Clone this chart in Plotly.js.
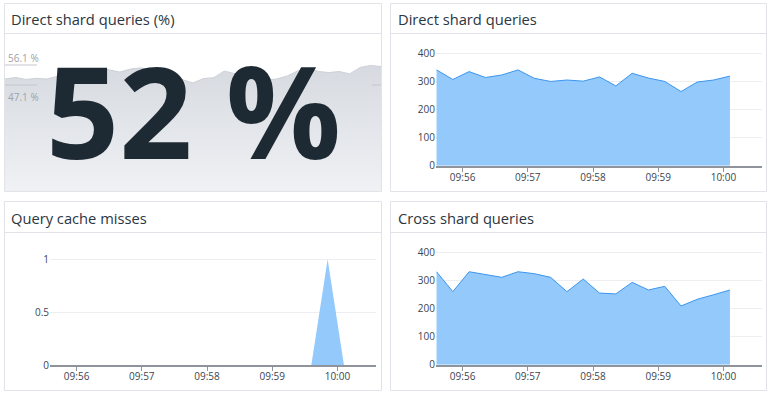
<!DOCTYPE html>
<html>
<head>
<meta charset="utf-8">
<script src="https://cdn.plot.ly/plotly-3.0.1.min.js"></script>
<style>
  html, body { margin: 0; padding: 0; background: #ffffff; }
  #chart { width: 769px; height: 395px; }
</style>
</head>
<body>
<div id="chart"></div>
<script>
// ---------- DATA ----------
const panelTitles = ['Direct shard queries (%)', 'Direct shard queries', 'Query cache misses', 'Cross shard queries'];

const times = [
  '2024-05-14 09:55:36', '2024-05-14 09:55:51', '2024-05-14 09:56:06', '2024-05-14 09:56:21',
  '2024-05-14 09:56:36', '2024-05-14 09:56:51', '2024-05-14 09:57:06', '2024-05-14 09:57:21',
  '2024-05-14 09:57:36', '2024-05-14 09:57:51', '2024-05-14 09:58:06', '2024-05-14 09:58:21',
  '2024-05-14 09:58:36', '2024-05-14 09:58:51', '2024-05-14 09:59:06', '2024-05-14 09:59:21',
  '2024-05-14 09:59:36', '2024-05-14 09:59:51', '2024-05-14 10:00:06'
];

const directShard = [341, 307, 335, 314, 323, 341, 311, 300, 305, 301, 316, 284, 329, 312, 300, 264, 298, 305, 319];
const crossShard  = [331, 260, 331, 320, 311, 331, 324, 311, 260, 305, 255, 252, 293, 266, 279, 209, 233, 249, 266];
const cacheMisses = [0, 0, 0, 0, 0, 0, 0, 0, 0, 0, 0, 0, 0, 0, 0, 0, 0, 1, 0];

// sparkline of the direct shard share (%)
const directPct = [
  49.8, 50.5, 49.6, 50.1, 49.8, 50.9, 52.1, 54.1, 54.5, 54.5,
  53.9, 52.9, 54.3, 54.8, 53.9, 52.5, 51.1, 49.4, 48.0, 50.0,
  50.4, 53.4, 52.3, 51.1, 49.8, 49.4, 49.8, 51.1, 53.4, 54.5,
  53.2, 52.7, 53.2, 52.1, 55.0, 55.9, 55.4
];
const sparkMax = 56.1;
const sparkMin = 47.1;
const bigValueText = '52 %';
const sparkMaxLabel = '56.1 %';
const sparkMinLabel = '47.1 %';

const timeRange = ['2024-05-14 09:55:35.5', '2024-05-14 10:00:35.5'];
const countTicks = [0, 100, 200, 300, 400];
const missTicks = [0, 0.5, 1];

// ---------- LAYOUT HELPERS ----------
const W = 769, H = 395;
const px = x => x / W;
const py = y => 1 - y / H;

const FILL = '#93c9fb';
const LINE = '#3b95ee';
const AXIS = '#8e939c';
const GRID = '#eceef2';
const TICKFONT = { family: 'Open Sans', size: 10, color: '#3b4550' };
const BORDER = '#e1e3e9';

function timeAxis(domainPx, anchor) {
  return {
    domain: [px(domainPx[0]), px(domainPx[1])],
    anchor: anchor,
    type: 'date',
    range: timeRange,
    tickformat: '%H:%M',
    dtick: 60000,
    tick0: '2024-05-14 09:56:00',
    ticks: 'outside',
    ticklen: 4,
    tickwidth: 1,
    tickcolor: AXIS,
    ticklabelstandoff: -3,
    showline: true,
    linecolor: AXIS,
    linewidth: 2,
    showgrid: false,
    zeroline: false,
    tickfont: TICKFONT,
    fixedrange: true
  };
}
function valueAxis(domainPx, anchor, range, tickvals) {
  return {
    domain: [py(domainPx[1]), py(domainPx[0])],
    anchor: anchor,
    range: range,
    tickmode: 'array',
    tickvals: tickvals,
    showgrid: true,
    gridcolor: GRID,
    gridwidth: 1,
    zeroline: false,
    showline: false,
    ticks: '',
    tickfont: TICKFONT,
    fixedrange: true
  };
}

const sparkIdx = directPct.map((_, i) => i);

const traces = [
  // sparkline baseline (invisible)
  { type: 'scatter', mode: 'lines', x: [sparkIdx[0], sparkIdx[sparkIdx.length - 1]], y: [-2, -2],
    xaxis: 'x4', yaxis: 'y4', line: { width: 0 }, hoverinfo: 'skip' },
  { type: 'scatter', mode: 'lines', x: sparkIdx, y: directPct, xaxis: 'x4', yaxis: 'y4',
    fill: 'tonexty',
    fillgradient: { type: 'vertical', start: 0, stop: sparkMax,
      colorscale: [[0, '#eff1f4'], [1, '#d6dae0']] },
    line: { color: '#cdd1d7', width: 1 }, hoverinfo: 'skip' },
  // Direct shard queries
  { type: 'scatter', mode: 'lines', x: times, y: directShard, xaxis: 'x', yaxis: 'y',
    fill: 'tozeroy', fillcolor: FILL, line: { color: LINE, width: 1 } },
  // Query cache misses
  { type: 'scatter', mode: 'lines', x: times, y: cacheMisses, xaxis: 'x2', yaxis: 'y2',
    fill: 'tozeroy', fillcolor: FILL, line: { color: FILL, width: 0 } },
  // Cross shard queries
  { type: 'scatter', mode: 'lines', x: times, y: crossShard, xaxis: 'x3', yaxis: 'y3',
    fill: 'tozeroy', fillcolor: FILL, line: { color: LINE, width: 1 } }
];

// sparkline axis: 56.1 -> y 65px, 47.1 -> y 85px
const sparkPxPerUnit = 20 / (sparkMax - sparkMin);
const sparkTopPx = 34, sparkBottomPx = 191;
const sparkRange = [sparkMin - (sparkBottomPx - 85) / sparkPxPerUnit, sparkMax + (65 - sparkTopPx) / sparkPxPerUnit];

const panels = [
  [4.5, 3.5, 381.5, 191.5, 33.5],
  [390.5, 3.5, 766.5, 191.5, 33.5],
  [4.5, 201.5, 381.5, 390.5, 232.5],
  [390.5, 201.5, 766.5, 390.5, 232.5]
];
const shapes = [];
panels.forEach(p => {
  shapes.push({ type: 'rect', xref: 'paper', yref: 'paper', x0: px(p[0]), x1: px(p[2]), y0: py(p[3]), y1: py(p[1]),
    line: { color: BORDER, width: 1 }, fillcolor: 'rgba(0,0,0,0)', layer: 'above' });
  shapes.push({ type: 'line', xref: 'paper', yref: 'paper', x0: px(p[0]), x1: px(p[2]), y0: py(p[4]), y1: py(p[4]),
    line: { color: BORDER, width: 1 }, layer: 'above' });
});
// spark reference marks
shapes.push({ type: 'line', xref: 'paper', yref: 'y4', x0: px(5), x1: px(37), y0: sparkMax, y1: sparkMax,
  line: { color: '#c3c7ce', width: 1 } });
shapes.push({ type: 'line', xref: 'paper', yref: 'y4', x0: px(5), x1: px(37), y0: sparkMin, y1: sparkMin,
  line: { color: '#c3c7ce', width: 1 } });
shapes.push({ type: 'line', xref: 'paper', yref: 'y4', x0: px(372), x1: px(381), y0: sparkMin, y1: sparkMin,
  line: { color: '#c3c7ce', width: 1 } });

const titlePos = [[9, 19], [395.5, 19], [9, 218], [395.5, 218]];
const annotations = panelTitles.map((t, i) => ({
  text: t, xref: 'paper', yref: 'paper', x: px(titlePos[i][0]), y: py(titlePos[i][1]),
  xanchor: 'left', yanchor: 'middle', showarrow: false,
  font: { family: 'Open Sans', size: 14.7, color: '#2b3641' }
}));
annotations.push({ text: sparkMaxLabel, xref: 'paper', yref: 'y4', x: px(6), y: sparkMax,
  xanchor: 'left', yanchor: 'bottom', yshift: -2, showarrow: false,
  font: { family: 'Open Sans', size: 10, color: '#9da2a9' } });
annotations.push({ text: sparkMinLabel, xref: 'paper', yref: 'y4', x: px(6), y: sparkMin,
  xanchor: 'left', yanchor: 'top', yshift: -3, showarrow: false,
  font: { family: 'Open Sans', size: 10, color: '#9da2a9' } });
annotations.push({ text: bigValueText, xref: 'paper', yref: 'paper', x: px(193), y: py(109.5),
  xanchor: 'center', yanchor: 'middle', showarrow: false,
  font: { family: 'Open Sans', size: 128, weight: 700, color: '#1e2a33' } });

const layout = {
  width: W, height: H,
  margin: { l: 0, r: 0, t: 0, b: 0, pad: 0 },
  paper_bgcolor: '#ffffff',
  plot_bgcolor: 'rgba(0,0,0,0)',
  showlegend: false,
  font: { family: 'Open Sans', color: '#3b4550' },
  xaxis: timeAxis([436, 762], 'y'),
  yaxis: valueAxis([42.1, 165.7], 'x', [0, 440], countTicks),
  xaxis2: timeAxis([50, 376], 'y2'),
  yaxis2: valueAxis([241.3, 365], 'x2', [0, 1.17], missTicks),
  xaxis3: timeAxis([436, 762], 'y3'),
  yaxis3: valueAxis([241.1, 364.7], 'x3', [0, 440], countTicks),
  xaxis4: { domain: [px(5), px(381)], anchor: 'y4', range: [sparkIdx[0], sparkIdx[sparkIdx.length - 1]],
    visible: false, fixedrange: true },
  yaxis4: { domain: [py(sparkBottomPx), py(sparkTopPx)], anchor: 'x4', range: sparkRange,
    visible: false, fixedrange: true },
  shapes: shapes,
  annotations: annotations
};

Plotly.newPlot('chart', traces, layout, { displayModeBar: false, staticPlot: true });
</script>
</body>
</html>
